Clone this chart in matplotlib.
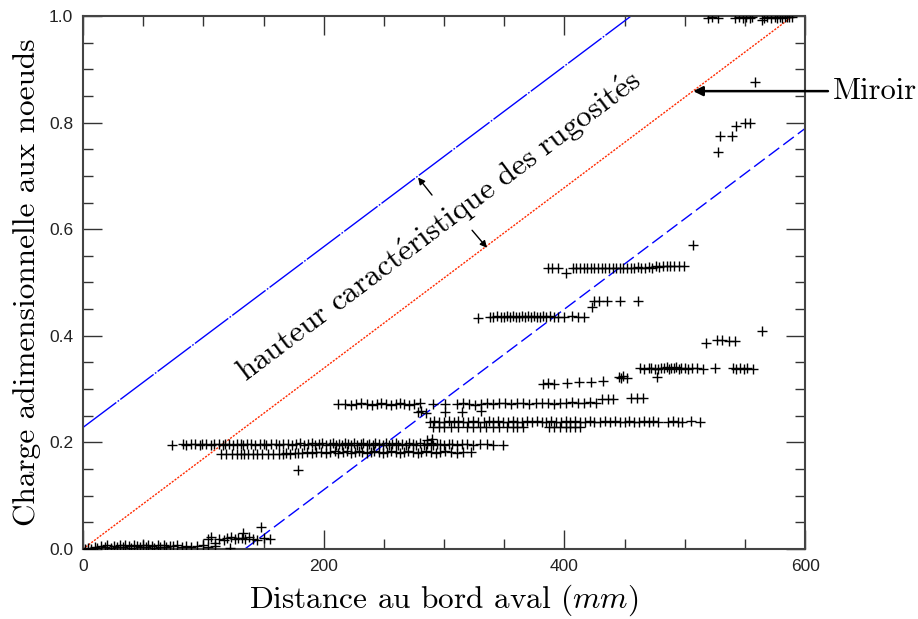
import matplotlib
matplotlib.use("Agg")
import matplotlib.pyplot as plt
from matplotlib.ticker import MultipleLocator

# points near zero load
zero_x = [2, 4, 7, 10, 12, 15, 18, 20, 23, 26, 28, 31, 33, 35, 38, 40, 42, 45, 47, 50,
          52, 54, 57, 59, 62, 64, 67, 69, 72, 75, 78, 82, 86, 90, 95, 100, 104, 110, 122]
zero_y = [0.0, 0.002, 0.0, 0.004, 0.001, 0.006, 0.003, 0.007, 0.002, 0.006,
          0.004, 0.008, 0.003, 0.007, 0.005, 0.002, 0.008, 0.005, 0.003, 0.007,
          0.004, 0.008, 0.005, 0.002, 0.007, 0.004, 0.008, 0.003, 0.006, 0.005,
          0.007, 0.004, 0.006, 0.003, 0.005, 0.007, 0.004, 0.006, 0.002]
low_x = [104, 106, 110, 113, 117, 120, 123, 126, 129, 132, 133, 135, 138, 141, 145, 148, 150, 155]
low_y = [0.018, 0.022, 0.012, 0.019, 0.017, 0.020, 0.022, 0.019, 0.021, 0.020, 0.030,
         0.018, 0.022, 0.019, 0.017, 0.041, 0.020, 0.019]

# plateau ~0.2
r20_x = [74, 83, 86, 90, 93, 97, 99, 102, 106, 109, 113, 116, 118, 121, 125, 128, 131, 133,
         136, 140, 143, 147, 150, 152, 156, 160, 163, 166, 170, 174, 177, 180, 184, 187,
         190, 193, 196, 199, 202, 205, 208, 210, 213, 215, 218, 220, 223, 225, 228, 231,
         233, 236, 238, 241, 243, 246, 249, 252, 254, 257, 260, 262, 265, 268, 271, 274,
         277, 280, 283, 286, 289, 291, 294, 297, 300, 304, 307, 311, 315, 319, 324, 330,
         336, 341, 349, 286, 290]
r20_y = [0.196, 0.197, 0.196, 0.197, 0.197, 0.196, 0.197, 0.197, 0.196, 0.197, 0.197,
         0.196, 0.197, 0.197, 0.196, 0.197, 0.197, 0.196, 0.197, 0.197, 0.196, 0.197,
         0.197, 0.196, 0.197, 0.197, 0.196, 0.197, 0.197, 0.196, 0.197, 0.198, 0.196,
         0.197, 0.198, 0.195, 0.197, 0.198, 0.196, 0.197, 0.198, 0.195, 0.197, 0.196,
         0.198, 0.197, 0.195, 0.198, 0.196, 0.197, 0.198, 0.195, 0.197, 0.196, 0.198,
         0.197, 0.195, 0.198, 0.196, 0.197, 0.198, 0.195, 0.197, 0.196, 0.198, 0.197,
         0.195, 0.198, 0.196, 0.197, 0.198, 0.196, 0.197, 0.197, 0.196, 0.197, 0.197,
         0.196, 0.197, 0.197, 0.196, 0.197, 0.197, 0.196, 0.196, 0.204, 0.206]
r18_x = [115, 119, 124, 128, 131, 134, 137, 141, 145, 149, 154, 158, 163, 166, 169, 172,
         176, 179, 182, 186, 190, 194, 198, 202, 205, 209, 212, 216, 219, 223, 226, 229,
         232, 236, 239, 242, 246, 249, 253, 256, 260, 263, 267, 270, 274, 278, 281, 285,
         289, 293, 297, 301, 306, 311, 316, 322, 179]
r18_y = [0.178, 0.178, 0.179, 0.178, 0.178, 0.179, 0.178, 0.178, 0.179, 0.178, 0.179,
         0.178, 0.179, 0.178, 0.180, 0.179, 0.181, 0.180, 0.181, 0.182, 0.181, 0.182,
         0.182, 0.181, 0.182, 0.183, 0.181, 0.182, 0.183, 0.181, 0.182, 0.183, 0.182,
         0.181, 0.182, 0.183, 0.182, 0.181, 0.182, 0.183, 0.182, 0.181, 0.182, 0.183,
         0.182, 0.181, 0.182, 0.183, 0.182, 0.181, 0.182, 0.183, 0.182, 0.181, 0.182,
         0.182, 0.148]

# plateau ~0.27 and neighbours
r27_x = [212, 218, 223, 227, 231, 236, 240, 244, 248, 252, 256, 260, 263, 267, 271, 275,
         280, 291, 301, 311, 316, 321, 326, 331, 336, 341, 346, 351, 356, 361, 366, 371,
         376, 381, 386, 391, 396, 401, 406, 411, 416, 421, 426, 431, 436, 440, 455, 460, 465]
r27_y = [0.272, 0.272, 0.271, 0.272, 0.273, 0.272, 0.271, 0.272, 0.273, 0.272, 0.271,
         0.272, 0.273, 0.272, 0.271, 0.272, 0.273, 0.272, 0.272, 0.272, 0.273, 0.272,
         0.271, 0.272, 0.273, 0.272, 0.274, 0.273, 0.272, 0.274, 0.273, 0.272, 0.274,
         0.273, 0.274, 0.272, 0.273, 0.274, 0.275, 0.273, 0.274, 0.275, 0.274, 0.281,
         0.282, 0.281, 0.283, 0.283, 0.284]
r26_x = [278, 281, 285, 301, 315, 331]
r26_y = [0.257, 0.258, 0.256, 0.257, 0.257, 0.259]

# plateau ~0.24
r24_x = [288, 292, 296, 300, 304, 308, 312, 316, 320, 324, 328, 333, 337, 341, 345, 349,
         353, 357, 361, 365, 369, 373, 377, 381, 385, 389, 393, 397, 401, 405, 409, 413,
         417, 421, 425, 430, 434, 438, 442, 446, 450, 454, 458, 462, 466, 470, 474, 478,
         486, 490, 494, 498, 505, 513]
r24_y = [0.239, 0.240, 0.239, 0.238, 0.240, 0.239, 0.240, 0.238, 0.239, 0.240, 0.239,
         0.238, 0.240, 0.239, 0.240, 0.238, 0.239, 0.240, 0.239, 0.238, 0.240, 0.239,
         0.240, 0.238, 0.239, 0.240, 0.239, 0.238, 0.240, 0.239, 0.240, 0.238, 0.239,
         0.240, 0.239, 0.238, 0.240, 0.239, 0.240, 0.238, 0.239, 0.240, 0.239, 0.238,
         0.240, 0.239, 0.240, 0.239, 0.239, 0.240, 0.239, 0.239, 0.240, 0.239]
r23_x = [291, 296, 300, 306, 312, 319, 324, 330, 335, 341, 346, 352, 357, 361, 366,
         387, 391, 396, 401, 405, 409, 413]
r23_y = [0.229, 0.228, 0.229, 0.228, 0.229, 0.228, 0.229, 0.228, 0.229, 0.228, 0.229,
         0.228, 0.229, 0.228, 0.229, 0.228, 0.229, 0.228, 0.229, 0.228, 0.229, 0.228]

# points ~0.31 - 0.41
r31_x = [382, 386, 391, 402, 412, 422, 432, 445, 447, 449, 452, 477]
r31_y = [0.310, 0.311, 0.310, 0.312, 0.313, 0.314, 0.315, 0.323, 0.321, 0.325, 0.320, 0.323]
r34_x = [463, 466, 470, 472, 475, 478, 480, 483, 485, 487, 489, 491, 493, 495, 497, 500,
         503, 506, 510, 515, 525, 540, 543, 546, 549, 552, 557]
r34_y = [0.339, 0.338, 0.340, 0.339, 0.337, 0.338, 0.340, 0.339, 0.341, 0.338, 0.340,
         0.339, 0.341, 0.338, 0.340, 0.339, 0.338, 0.340, 0.339, 0.338, 0.339, 0.339,
         0.338, 0.339, 0.338, 0.339, 0.338]
r39_x = [518, 527, 531, 537, 542, 564]
r39_y = [0.387, 0.392, 0.392, 0.391, 0.391, 0.409]

# plateau ~0.44
r44_x = [328, 338, 341, 344, 347, 350, 352, 355, 357, 360, 362, 365, 367, 370, 372, 375,
         377, 380, 382, 385, 388, 391, 395, 400, 406, 411, 416, 423, 425, 429, 435, 446, 461]
r44_y = [0.433, 0.436, 0.436, 0.437, 0.436, 0.436, 0.437, 0.436, 0.437, 0.436, 0.436,
         0.437, 0.436, 0.437, 0.436, 0.437, 0.436, 0.436, 0.437, 0.436, 0.437, 0.436,
         0.436, 0.436, 0.437, 0.436, 0.436, 0.454, 0.465, 0.465, 0.465, 0.465, 0.465]

# plateau ~0.53
r53_x = [386, 390, 395, 401, 407, 410, 413, 416, 419, 422, 425, 428, 431, 434, 437, 440,
         443, 446, 449, 452, 455, 458, 461, 464, 467, 470, 473, 476, 479, 482, 485, 488,
         491, 495, 499, 507]
r53_y = [0.528, 0.528, 0.528, 0.518, 0.528, 0.527, 0.528, 0.527, 0.528, 0.527, 0.528,
         0.527, 0.528, 0.527, 0.528, 0.528, 0.527, 0.528, 0.527, 0.528, 0.527, 0.528,
         0.529, 0.528, 0.527, 0.529, 0.528, 0.530, 0.529, 0.530, 0.531, 0.530, 0.531,
         0.530, 0.531, 0.570]

# high load
high_x = [528, 529, 539, 543, 550, 554, 558]
high_y = [0.745, 0.775, 0.775, 0.794, 0.800, 0.800, 0.876]
top_x = [519, 523, 528, 542, 545, 548, 551, 554, 556, 564, 566, 568, 572, 575, 577, 579,
         581, 583, 585, 587, 589]
top_y = [0.996, 0.998, 0.996, 0.997, 0.998, 0.997, 0.998, 0.997, 0.998, 0.992, 0.996,
         0.998, 0.996, 0.998, 0.997, 0.999, 0.997, 0.998, 0.999, 0.998, 0.999]

mirror_end = 590.0
band = 0.228

plt.rcParams['mathtext.fontset'] = 'cm'
plt.rcParams['font.family'] = 'Liberation Sans'

fig = plt.figure(figsize=(9.18, 6.19), dpi=100)
ax = fig.add_axes([0.0904, 0.1131, 0.7866, 0.8611])

all_x = (zero_x + low_x + r20_x + r18_x + r27_x + r26_x + r24_x + r23_x + r31_x
         + r34_x + r39_x + r44_x + r53_x + high_x + top_x)
all_y = (zero_y + low_y + r20_y + r18_y + r27_y + r26_y + r24_y + r23_y + r31_y
         + r34_y + r39_y + r44_y + r53_y + high_y + top_y)
ax.plot(all_x, all_y, '+', color='k', ms=6.5, mew=1.0, zorder=3)

# mirror line and the roughness band
ax.plot([0, mirror_end], [0, 1.0], color='#ff2a00', lw=1.0, dashes=(1.5, 1.0))
ax.plot([0, (1 - band) * mirror_end], [band, 1.0], color='#0000ff', lw=1.0,
        dashes=(30, 1.2, 1.2, 1.2))
ax.plot([band * mirror_end, 600], [0, 600 / mirror_end - band], color='#0000ff', lw=1.0,
        dashes=(9.5, 3.6))

ax.set_xlim(0, 600)
ax.set_ylim(0, 1.0)
ax.xaxis.set_major_locator(MultipleLocator(200))
ax.xaxis.set_minor_locator(MultipleLocator(50))
ax.yaxis.set_major_locator(MultipleLocator(0.2))
ax.yaxis.set_minor_locator(MultipleLocator(0.05))
ax.xaxis.set_major_formatter(plt.FuncFormatter(lambda v, p: '%d' % v))
ax.yaxis.set_major_formatter(plt.FuncFormatter(lambda v, p: '%.1f' % v))
ax.tick_params(which='both', direction='in', top=True, right=True, colors='#333333',
               labelcolor='#222222', labelsize=12.5, pad=7)
ax.tick_params(which='major', length=14, width=1.0)
ax.tick_params(which='minor', length=7, width=1.0)
for s in ax.spines.values():
    s.set_color('#444444')
    s.set_linewidth(1.5)

ax.set_xlabel(r'Distance au bord aval ($mm$)', family='cmr10', fontsize=22.5, labelpad=6)
ax.set_ylabel('Charge adimensionnelle aux noeuds', family='cmr10', fontsize=22.5,
              labelpad=6)

ax.text(296, 0.606, r'$\mathrm{hauteur\ caract\acute{e}ristique\ des\ rugosit\acute{e}s}$',
        fontsize=22.5, rotation=36.9, rotation_mode='anchor', ha='center', va='center')
ax.annotate('', xy=(278.4, 0.697), xytext=(290, 0.664),
            arrowprops=dict(arrowstyle='-|>', color='k', lw=1.0, mutation_scale=10,
                            shrinkA=0, shrinkB=0))
ax.annotate('', xy=(335.7, 0.565), xytext=(323.3, 0.598),
            arrowprops=dict(arrowstyle='-|>', color='k', lw=1.0, mutation_scale=10,
                            shrinkA=0, shrinkB=0))
ax.annotate('', xy=(507, 0.859), xytext=(619, 0.859), annotation_clip=False,
            arrowprops=dict(arrowstyle='-|>', color='k', lw=1.8, mutation_scale=14,
                            shrinkA=0, shrinkB=0))
ax.text(623, 0.859, 'Miroir', family='cmr10', fontsize=22, ha='left', va='center',
        clip_on=False)

fig.savefig('out.png', dpi=100)
